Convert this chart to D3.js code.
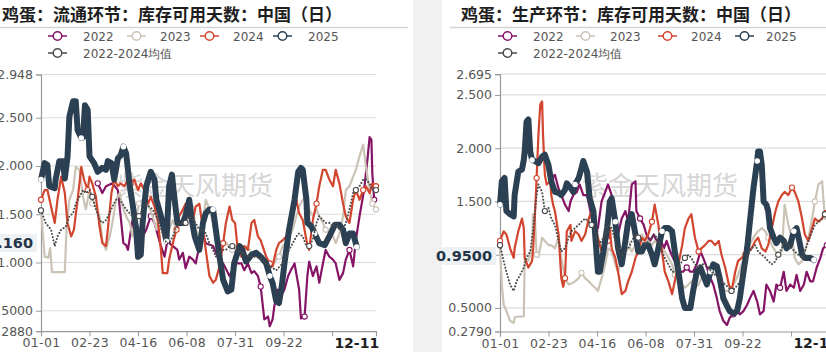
<!DOCTYPE html>
<html><head><meta charset="utf-8">
<script src="https://cdn.jsdelivr.net/npm/d3@7/dist/d3.min.js"></script>
<style>html,body{margin:0;padding:0;background:#fff;}svg{display:block;}</style>
</head><body>
<svg id="c" width="826" height="352"></svg>
<script>
// ---------- DATA ----------
const seriesNames = ["2022","2023","2024","2025","2022-2024均值"];
const xTickDays = [0,53,106,159,212,265,318,366];
const xTickLabels = ["01-01","02-23","04-16","06-08","07-31","09-22","",""];
const lastDay = 345, lastDayLabel = "12-11";

// Left: 流通环节 (day-of-year, value)
const L2022 = [[62,1.82],[67,1.72],[71,1.79],[78,1.82],[84,1.75],[87,1.48],[90,1.20],[93,1.18],[95,1.13],[100,1.44],[104,1.41],[107,1.34],[111,1.27],[115,1.34],[120,1.48],[124,1.41],[128,1.27],[131,1.17],[135,1.06],[138,1.22],[144,1.17],[149,1.13],[151,1.03],[155,1.10],[158,0.94],[162,1.06],[166,1.03],[169,0.99],[173,1.17],[177,1.30],[180,1.20],[188,1.17],[193,1.06],[199,0.99],[206,0.86],[213,0.99],[219,0.99],[222,0.92],[226,0.99],[230,0.89],[233,0.91],[237,0.86],[240,0.75],[244,0.41],[248,0.44],[250,0.34],[253,0.41],[255,0.55],[259,0.72],[262,0.65],[266,0.72],[270,0.86],[273,0.92],[277,0.99],[282,0.72],[284,0.42],[288,0.44],[291,0.86],[293,1.01],[297,0.86],[301,0.96],[304,0.79],[308,0.99],[311,1.13],[315,1.06],[319,1.03],[322,0.99],[326,0.82],[330,0.89],[333,1.03],[337,1.13],[341,0.96],[344,1.23],[348,1.48],[353,1.75],[357,2.10],[359,2.30],[361,2.27],[362,1.92],[364,1.65]];
const L2023 = [[0,1.54],[4,1.06],[8,1.05],[10,1.15],[12,0.90],[26,0.90],[28,1.37],[31,1.65],[35,1.75],[38,1.99],[42,1.96],[46,1.68],[49,1.55],[53,1.75],[56,1.61],[60,1.58],[64,1.48],[67,1.23],[71,1.13],[75,1.27],[78,1.41],[82,1.65],[86,1.72],[89,1.58],[93,1.48],[97,1.41],[100,1.27],[104,1.48],[107,1.61],[111,1.65],[115,1.58],[118,1.58],[122,1.48],[126,1.34],[129,1.48],[133,1.41],[137,1.30],[140,1.34],[144,1.44],[148,1.34],[151,1.37],[155,1.44],[158,1.51],[162,1.65],[166,1.58],[169,1.34],[173,1.27],[177,1.41],[180,1.65],[184,1.55],[188,1.41],[191,1.23],[195,1.13],[199,1.17],[202,1.20],[206,1.17],[209,1.13],[213,1.17],[217,1.10],[220,1.13],[224,1.17],[228,1.13],[231,1.10],[235,1.10],[239,1.06],[242,1.06],[246,1.03],[250,0.99],[253,0.96],[257,1.03],[260,1.06],[264,1.17],[268,1.20],[271,1.27],[275,1.34],[279,1.48],[282,1.58],[286,1.65],[290,1.68],[293,1.55],[297,1.48],[301,1.55],[304,1.48],[308,1.41],[311,1.34],[315,1.30],[319,1.27],[322,1.20],[326,1.30],[330,1.48],[333,1.75],[337,1.79],[341,1.89],[344,1.96],[348,2.10],[352,2.22],[355,1.99],[359,1.75],[362,1.61],[366,1.55]];
const L2024 = [[0,1.65],[4,1.75],[7,1.75],[11,1.58],[15,1.41],[18,1.65],[22,1.89],[26,1.72],[29,1.41],[33,1.27],[36,1.34],[40,1.65],[44,1.99],[47,1.86],[51,1.75],[53,1.89],[56,1.82],[60,1.68],[64,1.37],[67,1.20],[71,1.17],[73,1.34],[77,1.72],[80,1.86],[84,1.79],[87,1.82],[91,1.79],[95,1.86],[98,1.82],[102,1.86],[106,1.75],[109,1.82],[113,1.75],[117,1.61],[120,1.68],[124,1.58],[128,1.41],[131,1.13],[133,0.89],[138,0.89],[140,1.03],[144,1.20],[148,1.34],[151,1.48],[155,1.55],[158,1.61],[162,1.55],[166,1.44],[169,1.58],[173,1.61],[177,1.34],[180,1.13],[184,0.86],[188,0.79],[191,0.82],[195,0.96],[199,1.20],[202,1.41],[206,1.58],[209,1.44],[212,1.41],[215,1.13],[219,1.06],[222,1.17],[226,1.13],[230,1.41],[233,1.44],[237,1.27],[240,1.23],[246,1.06],[250,0.99],[253,0.96],[257,1.13],[260,1.20],[264,1.23],[268,1.27],[271,1.37],[275,1.48],[279,1.65],[282,1.51],[286,1.44],[290,1.23],[293,1.13],[297,1.44],[301,1.61],[304,1.79],[308,1.96],[311,1.96],[315,1.86],[319,1.79],[322,1.96],[326,1.82],[330,1.61],[333,1.48],[337,1.41],[341,1.65],[344,1.75],[348,1.65],[352,1.75],[355,1.79],[359,1.72],[362,1.82],[366,1.79]];
const L2025 = [[0,1.86],[4,2.03],[7,2.01],[9,1.79],[15,1.77],[16,1.86],[20,2.05],[24,2.05],[26,1.87],[29,2.10],[31,2.51],[35,2.67],[38,2.67],[40,2.37],[44,2.29],[46,2.30],[48,2.63],[51,2.58],[53,2.10],[58,2.03],[62,1.94],[67,1.98],[71,1.96],[73,2.05],[77,2.03],[80,1.86],[84,2.08],[87,2.11],[90,2.20],[93,2.13],[97,1.79],[100,1.61],[104,1.34],[106,1.06],[109,1.08],[111,1.41],[115,1.79],[120,1.94],[124,1.86],[126,1.65],[129,1.55],[133,1.41],[137,1.22],[140,1.79],[143,1.91],[146,1.65],[149,1.41],[155,1.41],[158,1.49],[162,1.65],[164,1.48],[168,1.27],[173,1.13],[177,1.41],[180,1.51],[184,1.55],[188,1.55],[191,1.34],[195,1.06],[199,0.82],[204,0.70],[208,0.72],[211,0.99],[217,1.17],[220,1.13],[224,1.01],[230,1.08],[235,1.10],[240,1.06],[246,0.99],[250,0.86],[253,0.79],[257,0.60],[260,0.58],[263,0.75],[266,0.99],[271,1.34],[277,1.65],[281,1.94],[284,1.98],[286,1.96],[290,1.65],[291,1.41],[295,1.38],[299,1.30],[304,1.20],[310,1.18],[315,1.27],[321,1.39],[326,1.39],[330,1.34],[333,1.20],[337,1.30],[341,1.30],[345,1.16]];
const LAvg = [[0,1.54],[5,1.41],[11,1.34],[15,1.17],[18,1.27],[22,1.34],[27,1.37],[31,1.48],[35,1.51],[38,1.61],[42,1.68],[46,1.75],[49,1.72],[53,1.75],[56,1.68],[60,1.55],[64,1.44],[67,1.41],[71,1.44],[75,1.51],[78,1.58],[82,1.65],[86,1.65],[89,1.61],[93,1.55],[97,1.51],[100,1.48],[104,1.44],[107,1.48],[111,1.55],[115,1.61],[118,1.58],[122,1.55],[126,1.48],[129,1.41],[133,1.30],[137,1.20],[140,1.20],[144,1.27],[148,1.37],[151,1.41],[155,1.41],[158,1.41],[162,1.48],[166,1.44],[169,1.41],[173,1.34],[177,1.34],[180,1.30],[184,1.20],[188,1.13],[191,1.06],[195,1.10],[199,1.13],[202,1.13],[206,1.17],[209,1.17],[213,1.13],[220,1.10],[228,1.06],[235,1.06],[242,1.03],[250,0.96],[257,0.92],[264,0.99],[271,1.13],[279,1.27],[282,1.30],[286,1.27],[290,1.17],[293,1.17],[297,1.24],[301,1.41],[304,1.48],[308,1.44],[311,1.41],[315,1.41],[319,1.37],[322,1.41],[326,1.34],[330,1.34],[333,1.41],[337,1.55],[341,1.72],[344,1.75],[348,1.79],[352,1.86],[355,1.86],[359,1.82],[362,1.75],[366,1.75]];
const leftYTicks = [2.948,2.5,2.0,1.5,1.0,0.5,0.288];
const leftYLabels = ["2.948","2.500","2.000","1.500","1.000","0.5000","0.2880"];
const leftLast = 1.16, leftLastLabel = "1.160";

// Right: 生产环节
const R2022 = [[56,1.72],[60,1.75],[64,1.62],[67,1.56],[71,1.47],[75,1.41],[77,1.50],[80,1.56],[84,1.59],[87,1.66],[91,1.56],[95,1.56],[98,1.44],[102,1.25],[104,1.22],[107,1.25],[111,1.50],[115,1.59],[118,1.66],[122,1.56],[126,1.34],[129,1.19],[133,1.34],[137,1.41],[140,1.31],[144,1.66],[148,1.69],[149,1.41],[153,1.34],[157,1.28],[160,1.19],[164,1.13],[168,1.19],[171,1.13],[175,1.16],[179,1.06],[182,1.13],[186,1.03],[189,0.97],[193,0.91],[197,0.84],[200,0.84],[204,0.88],[208,0.84],[211,0.84],[215,0.91],[219,1.03],[222,0.97],[226,0.88],[230,0.78],[233,0.72],[237,0.59],[240,0.47],[244,0.38],[248,0.34],[251,0.41],[255,0.44],[259,0.47],[262,0.44],[266,0.47],[270,0.53],[273,0.59],[277,0.66],[281,0.56],[284,0.44],[288,0.47],[291,0.72],[295,0.66],[299,0.56],[302,0.72],[306,0.69],[310,0.84],[313,0.66],[317,0.72],[321,0.69],[324,0.81],[328,0.66],[332,0.72],[335,0.84],[339,0.75],[342,0.75],[346,0.88],[350,0.97],[353,1.06],[357,1.09],[366,1.12]];
const R2023 = [[0,1.09],[2,0.72],[4,0.53],[7,0.47],[11,0.38],[15,0.36],[16,0.41],[20,0.42],[26,0.42],[27,0.97],[31,0.94],[35,1.06],[36,1.38],[38,1.38],[40,1.00],[42,0.98],[46,1.16],[49,1.13],[53,1.09],[56,1.09],[60,1.06],[64,1.16],[67,0.97],[71,0.78],[75,0.72],[78,0.73],[82,0.75],[86,0.78],[89,0.83],[93,0.78],[97,0.75],[100,0.72],[104,0.69],[107,0.66],[111,0.78],[115,0.91],[118,1.06],[122,1.03],[126,0.91],[129,0.84],[133,0.97],[137,1.03],[140,1.09],[144,1.03],[148,1.09],[151,1.16],[155,1.19],[158,1.16],[162,1.13],[166,1.09],[169,1.13],[173,1.09],[177,1.06],[180,1.03],[184,0.97],[188,0.91],[191,0.81],[195,0.78],[199,0.72],[202,0.69],[206,0.72],[209,0.75],[213,0.69],[217,0.72],[220,0.78],[224,0.81],[228,0.78],[231,0.81],[235,0.84],[239,0.78],[242,0.72],[246,0.66],[250,0.66],[253,0.69],[257,0.75],[260,0.81],[264,0.91],[268,1.00],[271,1.06],[275,1.13],[279,1.19],[282,1.22],[286,1.25],[290,1.22],[293,1.16],[297,1.09],[301,1.03],[304,1.00],[308,1.03],[311,1.47],[315,1.28],[319,1.16],[322,0.97],[326,0.91],[330,0.94],[333,1.03],[337,1.16],[341,1.34],[344,1.50],[348,1.66],[352,1.69],[353,1.56],[355,1.34],[366,1.30]];
const R2024 = [[0,1.13],[4,1.22],[7,1.19],[11,1.06],[15,0.97],[16,1.06],[20,1.22],[24,1.34],[26,1.25],[27,0.97],[31,0.88],[35,0.94],[36,1.03],[38,1.34],[40,1.72],[42,2.13],[44,2.41],[46,2.44],[47,2.13],[49,1.75],[51,1.66],[55,1.69],[56,1.56],[58,1.47],[60,1.41],[64,1.19],[67,0.78],[69,0.70],[71,0.78],[73,1.22],[77,1.28],[78,1.13],[82,1.22],[86,1.19],[89,1.13],[93,1.19],[97,1.34],[100,1.41],[104,1.28],[107,1.16],[111,1.03],[115,1.09],[118,1.13],[120,1.25],[122,1.06],[126,0.97],[129,0.84],[133,0.63],[137,0.66],[140,0.75],[144,0.84],[148,0.97],[151,1.03],[155,1.16],[158,1.13],[162,1.19],[166,1.31],[169,1.47],[173,1.28],[177,1.03],[180,0.84],[184,0.75],[188,0.63],[191,0.75],[195,0.91],[199,1.09],[202,1.25],[206,1.34],[209,1.38],[213,1.16],[217,1.03],[220,1.06],[224,1.09],[228,1.13],[231,1.13],[235,1.09],[239,1.13],[242,1.00],[246,0.88],[250,0.72],[253,0.66],[257,0.84],[260,0.94],[264,0.97],[268,1.00],[271,1.03],[275,1.06],[279,1.13],[282,1.16],[286,1.06],[290,1.03],[293,1.09],[297,1.25],[301,1.41],[304,1.50],[308,1.56],[311,1.59],[315,1.56],[319,1.63],[322,1.59],[326,1.50],[330,1.34],[333,1.19],[337,1.13],[341,1.25],[344,1.34],[348,1.31],[352,1.34],[355,1.41],[366,1.40]];
const R2025 = [[0,1.47],[2,1.69],[5,1.72],[7,1.41],[11,1.38],[15,1.36],[16,1.56],[20,1.78],[24,1.80],[26,1.89],[27,1.97],[29,2.25],[31,2.27],[33,1.97],[35,1.89],[38,1.88],[42,1.86],[46,1.92],[49,1.94],[53,1.84],[56,1.69],[60,1.59],[64,1.58],[67,1.56],[71,1.61],[73,1.67],[77,1.63],[80,1.59],[82,1.66],[86,1.72],[89,1.81],[91,1.88],[95,1.78],[98,1.53],[102,1.41],[104,1.19],[107,0.84],[109,0.84],[113,1.03],[117,1.25],[120,1.50],[122,1.53],[126,1.31],[129,1.06],[133,0.91],[137,1.13],[140,1.31],[144,1.38],[148,1.19],[151,1.03],[155,1.03],[158,1.09],[162,1.09],[166,1.00],[169,0.91],[173,1.06],[177,1.22],[180,1.25],[184,1.25],[188,1.22],[191,1.03],[195,0.84],[199,0.59],[202,0.50],[208,0.50],[211,0.66],[215,0.84],[219,0.88],[222,0.81],[226,0.72],[230,0.84],[233,0.91],[237,0.89],[240,0.78],[244,0.59],[248,0.52],[251,0.47],[255,0.45],[259,0.47],[262,0.59],[266,0.84],[270,1.06],[273,1.31],[277,1.63],[281,1.88],[282,1.97],[284,1.97],[286,1.84],[288,1.50],[291,1.47],[293,1.41],[295,1.25],[299,1.16],[302,1.11],[306,1.16],[310,1.13],[313,1.06],[317,1.09],[321,1.22],[324,1.25],[327,1.13],[330,1.00],[333,0.97],[339,0.97],[343,0.95]];
const RAvg = [[0,1.09],[4,0.94],[7,0.84],[11,0.72],[15,0.66],[18,0.75],[22,0.81],[26,0.88],[29,0.97],[33,1.03],[36,1.22],[40,1.56],[42,1.66],[46,1.59],[49,1.41],[53,1.44],[56,1.34],[60,1.28],[64,1.13],[67,1.03],[71,1.06],[75,1.16],[78,1.22],[82,1.25],[86,1.28],[89,1.31],[93,1.34],[97,1.31],[100,1.28],[104,1.22],[107,1.09],[111,1.13],[115,1.19],[118,1.28],[122,1.25],[126,1.13],[129,1.03],[133,1.00],[137,1.03],[140,1.06],[144,1.13],[148,1.19],[151,1.16],[155,1.13],[158,1.09],[162,1.13],[166,1.16],[169,1.19],[173,1.13],[177,1.03],[180,0.97],[184,0.91],[188,0.84],[191,0.84],[195,0.88],[199,0.94],[202,0.97],[206,1.00],[209,0.97],[213,0.91],[217,0.88],[220,0.91],[224,0.91],[228,0.88],[231,0.84],[235,0.81],[239,0.78],[242,0.75],[246,0.72],[250,0.69],[253,0.66],[257,0.69],[260,0.72],[264,0.78],[268,0.91],[271,1.00],[275,1.06],[279,1.09],[282,1.03],[286,1.00],[290,0.97],[293,0.94],[297,0.91],[301,0.94],[304,1.00],[308,1.06],[311,1.13],[315,1.09],[319,1.06],[322,1.03],[326,1.00],[330,0.97],[333,1.03],[337,1.13],[341,1.22],[344,1.28],[348,1.31],[352,1.34],[355,1.38],[366,1.40]];
const rightYTicks = [2.695,2.5,2.0,1.5,1.0,0.5,0.279];
const rightYLabels = ["2.695","2.500","2.000","1.500","","0.5000","0.2790"];
const rightLast = 0.95, rightLastLabel = "0.9500";

const titles = ["鸡蛋：流通环节：库存可用天数：中国（日）","鸡蛋：生产环节：库存可用天数：中国（日）"];
const watermark = "紫金天风期货";

// ---------- STYLE ----------
const colors = {"2022":"#851466","2023":"#cbc3b6","2024":"#d2452e","2025":"#2b4052","2022-2024均值":"#4a4a4a"};
const widths = {"2022":2.2,"2023":2.2,"2024":2.2,"2025":6,"2022-2024均值":2};
const FONT = "'DejaVu Sans', Verdana, sans-serif";
const CJK = "'Noto Sans CJK SC', 'Noto Sans', sans-serif";

const svg = d3.select("#c");
// gray strip at the left of the right panel
svg.append("rect").attr("x",413).attr("y",0).attr("width",29).attr("height",352).attr("fill","#f1f1f1");

function panel(cfg){
  const g = svg.append("g");
  const x = d3.scaleLinear().domain([0,366]).range(cfg.xr);
  const y = d3.scaleLinear().domain(cfg.yd).range(cfg.yr);
  // title
  g.append("text").attr("x",cfg.titleX).attr("y",21).text(cfg.title)
    .attr("font-family",CJK).attr("font-weight",700).attr("font-size",17).attr("fill","#1e1e1e");
  g.append("line").attr("x1",cfg.sep[0]).attr("x2",cfg.sep[1]).attr("y1",27.5).attr("y2",27.5)
    .attr("stroke","#d4d4d4").attr("stroke-width",1.6);
  // legend
  const lx = cfg.legendX;
  cfg.legendPos.forEach((p,i)=>{
    const name = seriesNames[i];
    const lg = g.append("g").attr("transform",`translate(${lx+p[0]},${p[1]})`);
    lg.append("line").attr("x1",0).attr("x2",19).attr("y1",0).attr("y2",0).attr("stroke",colors[name]).attr("stroke-width",1.5);
    lg.append("circle").attr("cx",9.5).attr("cy",0).attr("r",4.3).attr("fill","#fff").attr("stroke",colors[name]).attr("stroke-width",1.4);
    lg.append("text").attr("x",p[2]).attr("y",4.5).text(name).attr("font-family",FONT).attr("font-size",12).attr("fill","#555");
  });
  // grid
  cfg.yTicks.forEach(v=>{
    if (v===cfg.yd[0]) return;
    g.append("line").attr("x1",cfg.xr[0]).attr("x2",cfg.gridEnd).attr("y1",y(v)).attr("y2",y(v))
      .attr("stroke","#dcdcdc").attr("stroke-width",1.2);
  });
  // watermark
  g.append("text").attr("x",cfg.wmX).attr("y",195).attr("text-anchor","middle").text(watermark)
    .attr("font-family",CJK).attr("font-size",26).attr("fill","#c9c9c9").attr("opacity",0.75);
  // axes
  const yAxis = d3.axisLeft(y).tickValues(cfg.yTicks).tickSize(5).tickFormat((d,i)=>cfg.yLabels[i]);
  const ya = g.append("g").attr("transform",`translate(${cfg.xr[0]},0)`).call(yAxis);
  const xAxis = d3.axisBottom(x).tickValues(xTickDays).tickSize(5).tickFormat((d,i)=>xTickLabels[i]);
  const xa = g.append("g").attr("transform",`translate(0,${cfg.yr[0]})`).call(xAxis);
  [ya,xa].forEach(a=>{
    a.select(".domain").attr("stroke","#9a9a9a").attr("stroke-width",1.2);
    a.selectAll(".tick line").attr("stroke","#9a9a9a");
    a.selectAll("text").attr("font-family",FONT).attr("font-size",12.5).attr("fill","#555");
  });
  ya.selectAll("text").attr("x",-8);
  xa.selectAll("text").attr("y",7).attr("dy","0.72em").attr("letter-spacing","0.3px");
  xa.append("text").attr("x",x(lastDay)).attr("y",6).attr("dy","0.75em").attr("text-anchor","middle")
    .text(lastDayLabel).attr("font-family",FONT).attr("font-weight",700).attr("font-size",14).attr("fill","#1f1f1f");
  // series
  const line = d3.line().x(d=>x(d[0])).y(d=>y(d[1]));
  [0,1,2,3,4].forEach(i=>{
    const name = seriesNames[i], data = cfg.data[i];
    g.append("path").datum(data).attr("d",line).attr("fill","none")
      .attr("stroke",colors[name]).attr("stroke-width",widths[name])
      .attr("stroke-linejoin","round").attr("stroke-linecap","round")
      .attr("stroke-dasharray", i===4 ? "0.1,3.2" : null);
    const marks = data.filter((d,k)=>k%14===0 || k===data.length-1);
    g.selectAll(null).data(marks).enter().append("circle")
      .attr("cx",d=>x(d[0])).attr("cy",d=>y(d[1])).attr("r", i===3 ? 2.2 : 2.6)
      .attr("fill","#fff").attr("stroke",i===3 ? "#fff" : colors[name]).attr("stroke-width",1.1);
  });
  // last value highlight label
  const ly = y(cfg.last) - 4;
  const tw = cfg.lastLabel.length * 8.6;
  g.append("rect").attr("x",cfg.xr[0]-6-tw-4).attr("y",ly-9).attr("width",tw+6).attr("height",18)
    .attr("fill","#eef1f4");
  g.append("text").attr("x",cfg.xr[0]-8).attr("y",ly).attr("dy","0.35em").attr("text-anchor","end")
    .text(cfg.lastLabel).attr("font-family",FONT).attr("font-weight",700).attr("font-size",14.5).attr("fill","#243446");
}

panel({xr:[41,376], yd:[0.288,2.948], yr:[331.2,74.5], gridEnd:376,
  title:titles[0], titleX:2, sep:[0,408], legendX:48,
  legendPos:[[0,36,35],[79,36,33],[152,36,33],[225,36,35],[0,53,35]],
  yTicks:leftYTicks, yLabels:leftYLabels, wmX:195,
  data:[L2022,L2023,L2024,L2025,LAvg], last:leftLast, lastLabel:leftLastLabel});

panel({xr:[500,835], yd:[0.279,2.695], yr:[331.5,74.2], gridEnd:835,
  title:titles[1], titleX:461, sep:[450,826], legendX:498,
  legendPos:[[0,36,35],[78,36,34],[160,36,33],[237,36,31],[0,53,35]],
  yTicks:rightYTicks, yLabels:rightYLabels, wmX:660,
  data:[R2022,R2023,R2024,R2025,RAvg], last:rightLast, lastLabel:rightLastLabel});
</script>
</body></html>
